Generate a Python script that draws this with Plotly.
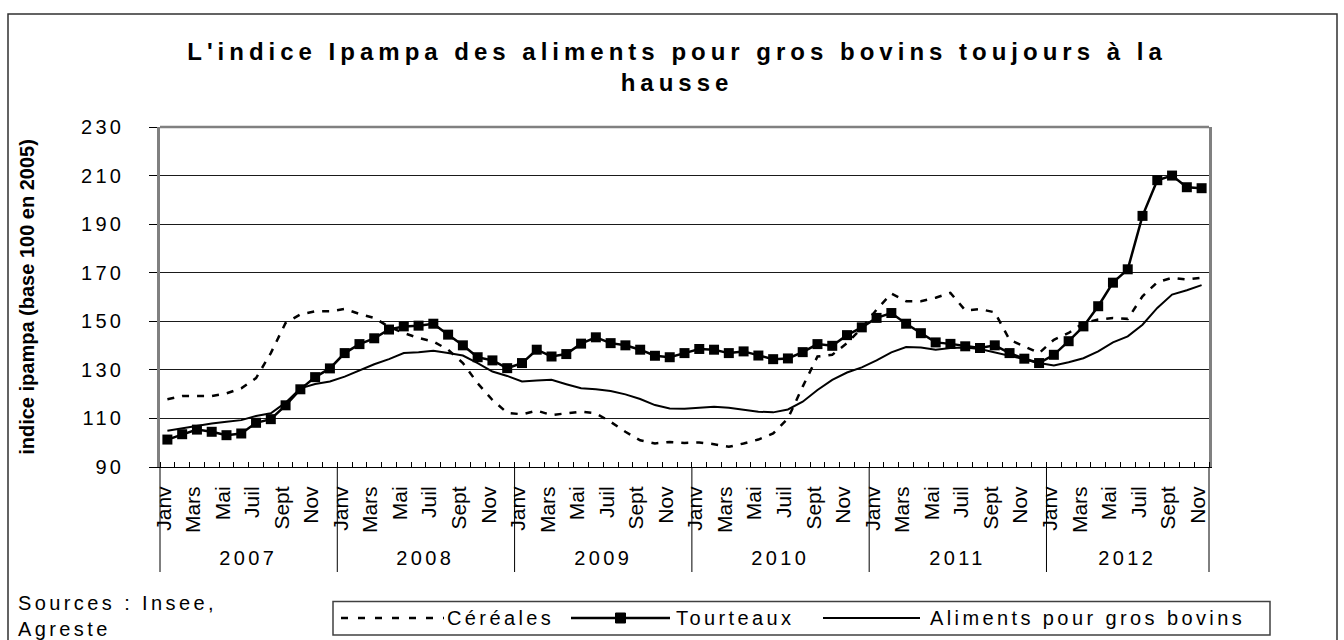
import plotly.graph_objects as go

# ---------------- data ----------------
years = [2007, 2008, 2009, 2010, 2011, 2012]
month_names = ["Janv", "Févr", "Mars", "Avr", "Mai", "Juin",
               "Juil", "Août", "Sept", "Oct", "Nov", "Déc"]
series_names = ["Céréales", "Tourteaux", "Aliments pour gros bovins"]

cereales = [117.9, 119.2, 119.2, 119.2, 120.3, 122.4, 126.6, 136.9, 149.3, 152.8, 154.1, 154.1,
            155.1, 153.0, 151.4, 147.7, 145.2, 143.1, 141.7, 138.3, 132.8, 124.5, 117.6, 112.3,
            111.7, 113.2, 111.4, 112.1, 112.8, 112.1, 108.6, 104.5, 101.0, 99.7, 100.3, 99.9,
            100.1, 99.4, 98.3, 99.7, 101.3, 103.8, 110.0, 123.1, 135.5, 136.2, 141.0, 147.2,
            154.8, 161.4, 158.3, 158.3, 159.7, 161.7, 154.5, 155.0, 153.7, 142.4, 139.7, 136.9,
            142.4, 145.2, 149.3, 150.7, 151.4, 151.0, 160.3, 166.1, 167.9, 167.2, 167.9]

tourteaux = [101.3, 103.5, 105.4, 104.5, 103.1, 103.8, 108.2, 109.7, 115.4, 122.0, 127.0, 130.6,
             136.9, 140.6, 143.0, 146.6, 147.9, 148.2, 149.0, 144.5, 140.1, 135.2, 133.9, 130.7,
             132.8, 138.3, 135.5, 136.5, 140.8, 143.4, 141.0, 140.1, 138.3, 135.8, 135.2, 136.9,
             138.6, 138.3, 136.9, 137.6, 135.9, 134.4, 134.7, 137.3, 140.6, 139.9, 144.3, 147.5,
             151.4, 153.4, 149.0, 145.1, 141.3, 140.7, 139.7, 139.0, 140.1, 136.9, 134.6, 132.8,
             136.2, 141.8, 147.9, 156.2, 165.9, 171.4, 193.4, 208.1, 210.0, 205.2, 204.8]

aliments = [104.9, 105.9, 107.2, 107.9, 108.6, 109.3, 111.0, 112.1, 116.5, 122.4, 124.2, 125.2,
            127.2, 129.7, 132.3, 134.4, 136.9, 137.3, 137.9, 136.9, 135.9, 132.8, 129.3, 127.5,
            125.2, 125.6, 125.9, 124.1, 122.4, 122.0, 121.3, 119.9, 118.0, 115.5, 114.1, 114.0,
            114.4, 114.8, 114.4, 113.7, 112.8, 112.5, 113.7, 116.9, 121.7, 125.9, 128.9, 131.0,
            133.9, 137.2, 139.4, 139.2, 138.3, 139.0, 139.2, 138.6, 137.3, 135.9, 134.4, 132.8,
            131.8, 133.1, 134.8, 137.6, 141.3, 143.8, 148.6, 155.5, 161.0, 162.8, 164.9]

y_ticks = [90, 110, 130, 150, 170, 190, 210, 230]

title_text = "L'indice Ipampa des aliments pour gros bovins toujours à la<br>hausse"
y_title = "indice ipampa (base 100 en 2005)"
source_text = "Sources : Insee,<br>Agreste"

# ---------------- geometry ----------------
FONT = "Liberation Sans, Arial, sans-serif"
W_FIG, H_FIG = 1344, 640
ML, MR, MT, MB = 160, 135, 127, 173
PW = W_FIG - ML - MR
PH = H_FIG - MT - MB


def px_x(px):
    return (px - ML) / PW


def px_y(py):
    return (H_FIG - MB - py) / PH


N = len(tourteaux)
idx = list(range(N))
month_of = [month_names[k % 12] for k in idx]
year_of = [years[k // 12] for k in idx]

label_vals = [k - 0.25 for k in idx if k % 2 == 0]
label_text = [month_of[k] for k in idx if k % 2 == 0]
boundaries = [k - 0.5 for k in idx] + [N - 0.5]
year_starts = [k for k in idx if k % 12 == 0]
year_bounds = [s - 0.5 for s in year_starts] + [N - 0.5]

fig = go.Figure()
fig.add_trace(go.Scatter(x=idx, y=cereales, name=series_names[0], mode="lines",
                         line=dict(color="black", width=2.5, dash="7px,8px"),
                         showlegend=False))
fig.add_trace(go.Scatter(x=idx, y=tourteaux, name=series_names[1], mode="lines+markers",
                         line=dict(color="black", width=2.5),
                         marker=dict(symbol="square", size=10, color="black"),
                         showlegend=False))
fig.add_trace(go.Scatter(x=idx, y=aliments, name=series_names[2], mode="lines",
                         line=dict(color="black", width=2),
                         showlegend=False))

shapes = []
# outer chart frame
shapes.append(dict(type="rect", xref="paper", yref="paper",
                   x0=px_x(8), x1=px_x(1337), y0=px_y(700), y1=px_y(14),
                   line=dict(color="#303030", width=1.5), fillcolor="rgba(0,0,0,0)",
                   layer="below"))
# top border of plot area
shapes.append(dict(type="line", xref="paper", yref="paper", x0=0, x1=1, y0=1, y1=1,
                   line=dict(color="#808080", width=2.5), layer="above"))
# year separators
for b in year_bounds:
    xp = (b + 0.5) / N
    shapes.append(dict(type="line", xref="paper", yref="paper", x0=xp, x1=xp,
                       y0=0, y1=px_y(572), line=dict(color="black", width=1)))

# custom legend
leg_y = px_y(618)
shapes.append(dict(type="rect", xref="paper", yref="paper",
                   x0=px_x(333), x1=px_x(1270), y0=px_y(635), y1=px_y(601.5),
                   line=dict(color="#404040", width=1.5), fillcolor="white"))
shapes.append(dict(type="line", xref="paper", yref="paper", x0=px_x(341), x1=px_x(444),
                   y0=leg_y, y1=leg_y, line=dict(color="black", width=2.5, dash="7px,10px")))
shapes.append(dict(type="line", xref="paper", yref="paper", x0=px_x(571), x1=px_x(670),
                   y0=leg_y, y1=leg_y, line=dict(color="black", width=2.5)))
shapes.append(dict(type="rect", xref="paper", yref="paper", x0=px_x(615.5), x1=px_x(625.5),
                   y0=px_y(623), y1=px_y(613), line=dict(color="black", width=1),
                   fillcolor="black"))
shapes.append(dict(type="line", xref="paper", yref="paper", x0=px_x(823), x1=px_x(920),
                   y0=leg_y, y1=leg_y, line=dict(color="black", width=2)))

annotations = []
for j, yr in enumerate(years):
    ks = [k for k in idx if year_of[k] == yr]
    annotations.append(dict(x=(ks[0] + ks[-1]) / 2, xref="x", y=px_y(558), yref="paper",
                            text=str(yr), showarrow=False, xanchor="center", yanchor="middle",
                            font=dict(family=FONT, size=20, color="black")))
for name, xs in zip(series_names, [445, 674, 928]):
    annotations.append(dict(x=px_x(xs), xref="paper", y=leg_y, yref="paper", text=name,
                            showarrow=False, xanchor="left", yanchor="middle", align="left",
                            font=dict(family=FONT, size=20, color="black")))
annotations.append(dict(x=px_x(16), xref="paper", y=px_y(590), yref="paper", text=source_text,
                        showarrow=False, xanchor="left", yanchor="top", align="left",
                        font=dict(family=FONT, size=20, color="black")))

fig.update_layout(
    width=W_FIG, height=H_FIG,
    margin=dict(l=ML, r=MR, t=MT, b=MB, autoexpand=False),
    paper_bgcolor="white", plot_bgcolor="white",
    font=dict(family=FONT, color="black"),
    title=dict(text=title_text, x=677 / W_FIG, xanchor="center", xref="container",
               y=1 - 60 / H_FIG, yanchor="top", yref="container",
               font=dict(family=FONT, size=24, color="black", weight="bold")),
    xaxis=dict(range=[-0.5, N - 0.5], tickmode="array", tickvals=label_vals, ticktext=label_text,
               tickangle=-90, ticks="", showgrid=False, zeroline=False,
               showline=True, linecolor="black", linewidth=1,
               tickfont=dict(family=FONT, size=21, color="black"),
               ticklabelstandoff=10,
               minor=dict(tickmode="array", tickvals=boundaries, ticks="inside", ticklen=5,
                          tickcolor="black", tickwidth=1, showgrid=False)),
    yaxis=dict(range=[90, 230], tickmode="array", tickvals=y_ticks,
               ticks="outside", ticklen=8, tickcolor="black", tickwidth=1,
               showgrid=True, gridcolor="#1a1a1a", gridwidth=1, zeroline=False,
               showline=True, linecolor="#808080", linewidth=2.5, mirror=True,
               tickfont=dict(family=FONT, size=20, color="black"),
               ticklabelstandoff=21,
               title=dict(text=y_title, standoff=51,
                          font=dict(family=FONT, size=20, color="black", weight="bold"))),
    shapes=shapes,
    annotations=annotations,
)

post = """
var gd = document.getElementById('{plot_id}');
var st = document.createElement('style');
st.textContent = 'html,body{margin:0;padding:0;overflow:hidden;} .gtitle{letter-spacing:5px;} .ytick text{letter-spacing:3.3px;} .annotation-text{letter-spacing:3.4px;}';
document.head.appendChild(st);
Plotly.newPlot(gd, gd.data, gd.layout, {displayModeBar:false});
"""

fig.write_html("out.html", post_script=post, config={"displayModeBar": False})
